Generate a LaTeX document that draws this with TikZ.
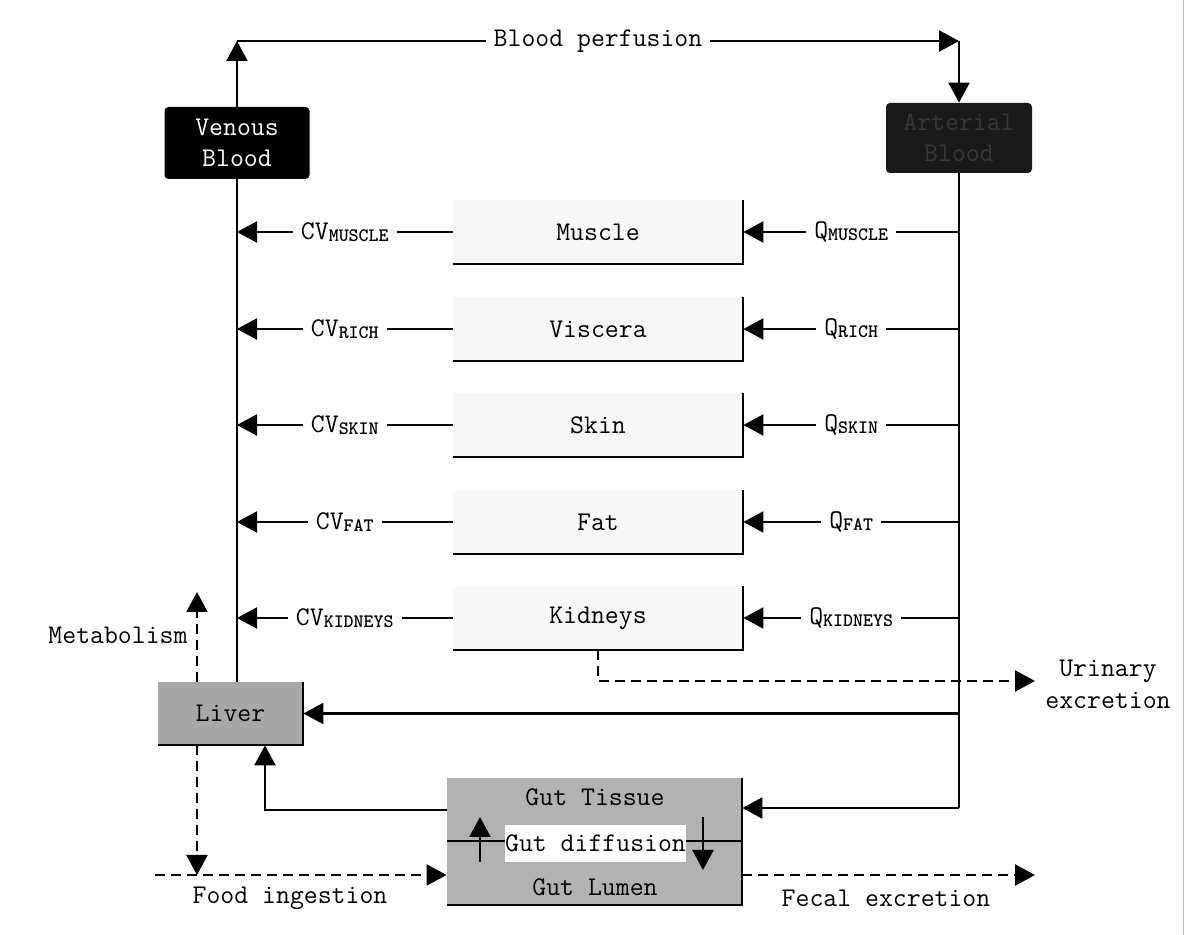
\documentclass[tikz,border=0pt]{standalone}
\usetikzlibrary{arrows.meta}
\newcommand\subtxt[1]{\raisebox{-1pt}{\fontsize{9.5}{10}\selectfont\bfseries #1}}
\begin{document}
\begin{tikzpicture}[x=0.5pt,y=-0.5pt,
  font=\fontsize{13.5}{15.5}\selectfont\ttfamily,
  conn/.style={line width=1.1pt},
  arr/.style={conn,-{Triangle[length=10pt,width=10.5pt]}},
  darr/.style={line width=1.1pt,dash pattern=on 5pt off 3pt,-{Triangle[length=10pt,width=10.5pt]}},
  lbl/.style={fill=white,inner xsep=4pt,inner ysep=1pt},
  tissue/.style={fill=gray!6,minimum width=145pt,minimum height=32pt,inner sep=0pt},
  blood/.style={fill=black,rounded corners=2pt,minimum width=72.5pt,minimum height=36pt,inner sep=0pt,align=center},
  organ/.style={fill=black!34,inner sep=0pt},
  edge/.style={line width=1pt}
]
\useasboundingbox (0,0) rectangle (1185,935);
\draw[gray!55,line width=0.5pt] (1183,0) -- (1183,935);

% blood compartments
\node[blood,text=white] (ven) at (237,143) {Venous\\Blood};
\node[blood,fill=black!90,text=black!78,minimum width=73pt,minimum height=35pt] (art) at (959,138) {Arterial\\Blood};

% tissues
\node[tissue] (mus) at (598,232) {Muscle};
\node[tissue] (vis) at (598,329) {Viscera};
\node[tissue] (ski) at (598,425) {Skin};
\node[tissue] (fat) at (598,522) {Fat};
\node[tissue] (kid) at (598,618) {Kidneys};
\foreach \t in {mus,vis,ski,fat,kid}{
  \draw[edge] (\t.north east) -- (\t.south east) -- (\t.south west);
}

% liver
\node[organ,minimum width=72.5pt,minimum height=31.5pt] (liv) at (230.5,713.5) {Liver};
\draw[edge] (liv.north east) -- (liv.south east) -- (liv.south west);

% gut
\node[organ,fill=black!30,minimum width=147.5pt,minimum height=63.5pt] (gut) at (594.5,841.5) {};
\draw[edge] (gut.north east) -- (gut.south east) -- (gut.south west);
\draw[edge] (gut.west) -- (gut.east);
\node (gtis) at (595,797) {Gut Tissue};
\node (glum) at (595,887) {Gut Lumen};
\node[fill=white,minimum width=87.5pt,minimum height=18.5pt,inner sep=0pt] (gdif) at (595.5,843.5) {Gut diffusion};
\coordinate (gu1) at (480,862);
\coordinate (gu2) at (480,817);
\coordinate (gd1) at (703,817);
\coordinate (gd2) at (703,870);
\draw[arr] (gu1) -- (gu2);
\draw[arr] (gd1) -- (gd2);

% blood perfusion loop
\coordinate (tl) at (237,41);
\coordinate (tr) at (959,41);
\draw[arr] (ven.north) -- (tl);
\draw[arr] (tl) -- (tr) node[lbl,midway] (bp) {Blood perfusion};
\draw[arr] (tr) -- (art.north);

% main vessels
\draw[conn] (ven.south) -- (ven.south |- liv.north);
\coordinate (ab) at (959,808);
\draw[conn] (art.south) -- (ab);

% tissue flows
\draw[arr] (mus.west) -- (mus.west -| ven) node[lbl,midway] (cvm) {CV\subtxt{MUSCLE}};
\draw[arr] (vis.west) -- (vis.west -| ven) node[lbl,midway] (cvr) {CV\subtxt{RICH}};
\draw[arr] (ski.west) -- (ski.west -| ven) node[lbl,midway] (cvs) {CV\subtxt{SKIN}};
\draw[arr] (fat.west) -- (fat.west -| ven) node[lbl,midway] (cvf) {CV\subtxt{FAT}};
\draw[arr] (kid.west) -- (kid.west -| ven) node[lbl,midway] (cvk) {CV\subtxt{KIDNEYS}};
\draw[arr] (mus.east -| art) -- (mus.east) node[lbl,midway] (qm) {Q\subtxt{MUSCLE}};
\draw[arr] (vis.east -| art) -- (vis.east) node[lbl,midway] (qr) {Q\subtxt{RICH}};
\draw[arr] (ski.east -| art) -- (ski.east) node[lbl,midway] (qs) {Q\subtxt{SKIN}};
\draw[arr] (fat.east -| art) -- (fat.east) node[lbl,midway] (qf) {Q\subtxt{FAT}};
\draw[arr] (kid.east -| art) -- (kid.east) node[lbl,midway] (qk) {Q\subtxt{KIDNEYS}};

% liver and gut flows
\draw[arr] (liv.east -| art) -- (liv.east);
\draw[arr] (ab) -- (ab -| gut.east);
\coordinate (gl) at (265,810);
\draw[arr] (gut.west |- gl) -- (gl) -- (gl |- liv.south);

% metabolism
\coordinate (met) at (197,592);
\draw[darr] (liv.north -| met) -- (met);
\node (metl) at (118,635) {Metabolism};

% food ingestion
\coordinate (fs) at (155,875);
\draw[darr] (liv.south -| met) -- (met |- fs);
\draw[darr] (fs) -- (fs -| gut.west);
\node (fdl) at (290,898) {Food ingestion};

% fecal excretion
\coordinate (fe) at (1035,875);
\draw[darr] (fe -| gut.east) -- (fe);
\node (fel) at (886,898) {Fecal excretion};

% urinary excretion
\coordinate (ur) at (1035,681);
\draw[darr] (kid.south) -- (kid.south |- ur) -- (ur);
\node[align=center,font=\fontsize{13.5}{16}\selectfont\ttfamily] (url) at (1108,684) {Urinary\\excretion};
\end{tikzpicture}
\end{document}
